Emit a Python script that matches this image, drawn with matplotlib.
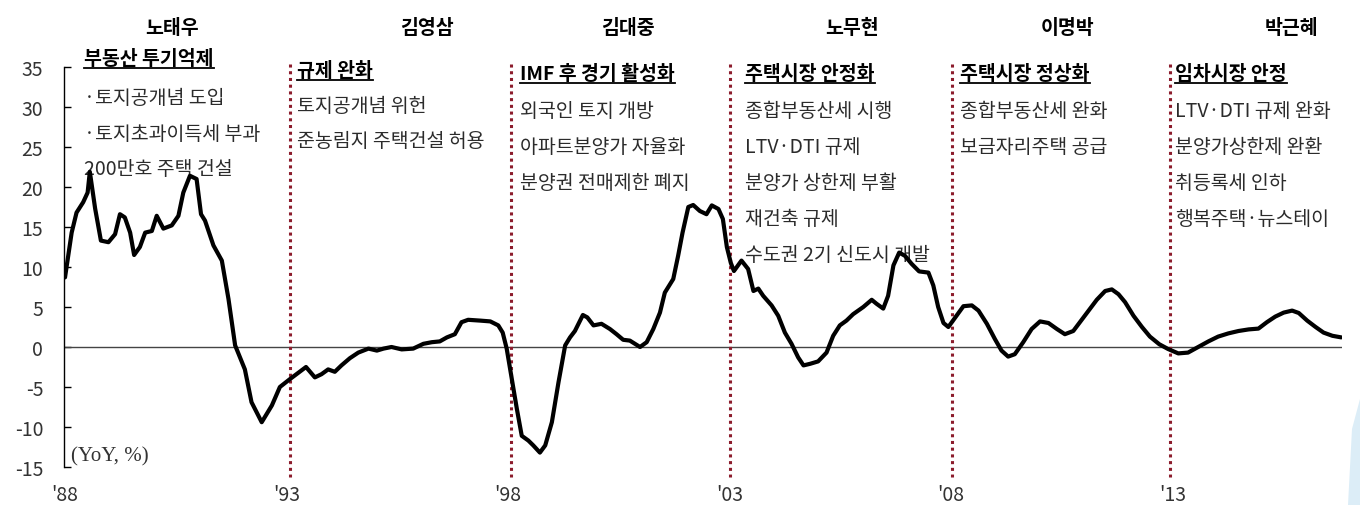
import matplotlib
matplotlib.use("Agg")
import matplotlib.pyplot as plt
from matplotlib.lines import Line2D
from matplotlib.patches import Polygon

plt.rcParams['font.family'] = ['Noto Sans CJK KR', 'DejaVu Sans']
plt.rcParams['axes.unicode_minus'] = False

# house price growth (YoY, %)
years = [1988.00, 1988.15, 1988.26, 1988.41, 1988.51, 1988.56, 1988.68, 1988.81, 1988.98,
         1989.13, 1989.24, 1989.35, 1989.47, 1989.56, 1989.69, 1989.81, 1989.96,
         1990.07, 1990.22, 1990.41, 1990.56, 1990.67, 1990.82, 1990.97,
         1991.07, 1991.16, 1991.35, 1991.54, 1991.69, 1991.84,
         1992.06, 1992.21, 1992.44, 1992.67, 1992.85,
         1993.08, 1993.27, 1993.44, 1993.64, 1993.79, 1993.94,
         1994.09, 1994.24, 1994.43, 1994.62, 1994.85,
         1995.04, 1995.19, 1995.37, 1995.60, 1995.86,
         1996.09, 1996.28, 1996.46, 1996.62, 1996.80, 1996.95,
         1997.10, 1997.37, 1997.60, 1997.78, 1997.88, 1997.97,
         1998.08, 1998.20, 1998.31, 1998.46, 1998.57, 1998.72, 1998.84, 1998.99,
         1999.14, 1999.29, 1999.40, 1999.51, 1999.69, 1999.79, 1999.93,
         2000.11, 2000.30, 2000.45, 2000.60, 2000.75, 2000.98,
         2001.13, 2001.28, 2001.43, 2001.54, 2001.73, 2001.84, 2001.94,
         2002.07, 2002.18, 2002.33, 2002.48, 2002.60, 2002.75, 2002.85, 2002.94,
         2003.03, 2003.10, 2003.27, 2003.42, 2003.54, 2003.65, 2003.76, 2003.95,
         2004.10, 2004.25, 2004.40, 2004.55, 2004.67, 2004.82,
         2005.00, 2005.19, 2005.34, 2005.49, 2005.64, 2005.79,
         2006.02, 2006.21, 2006.32, 2006.47, 2006.58, 2006.70, 2006.83, 2006.96,
         2007.11, 2007.28, 2007.49, 2007.60, 2007.71, 2007.83, 2007.94,
         2008.07, 2008.28, 2008.47, 2008.62, 2008.81, 2008.99,
         2009.14, 2009.29, 2009.44, 2009.63, 2009.82,
         2010.01, 2010.20, 2010.39, 2010.57, 2010.76, 2010.91,
         2011.10, 2011.29, 2011.48, 2011.63, 2011.78, 2011.93,
         2012.12, 2012.31, 2012.49, 2012.70, 2012.90,
         2013.13, 2013.35, 2013.58, 2013.81,
         2014.03, 2014.26, 2014.49, 2014.72, 2014.94,
         2015.13, 2015.32, 2015.51, 2015.70, 2015.85,
         2016.04, 2016.23, 2016.41, 2016.61, 2016.81]
yoy = [8.7, 14.3, 16.8, 18.1, 19.3, 21.9, 17.3, 13.3, 13.1,
       14.1, 16.6, 16.2, 14.3, 11.5, 12.5, 14.3, 14.5,
       16.4, 14.8, 15.2, 16.4, 19.3, 21.4, 21.0,
       16.6, 15.8, 12.7, 10.8, 6.0, 0.2,
       -2.8, -6.9, -9.4, -7.3, -5.0,
       -4.0, -3.2, -2.5, -3.8, -3.4, -2.8,
       -3.1, -2.3, -1.4, -0.7, -0.2,
       -0.45, -0.2, 0.0, -0.3, -0.2,
       0.4, 0.6, 0.7, 1.2, 1.6, 3.1,
       3.4, 3.3, 3.2, 2.7, 1.8, -0.2,
       -3.8, -7.75, -11.1, -11.7, -12.3, -13.2, -12.3, -9.4,
       -4.4, 0.2, 1.2, 2.0, 4.0, 3.7, 2.7,
       2.9, 2.25, 1.6, 0.9, 0.8, 0.0,
       0.6, 2.25, 4.3, 6.8, 8.5, 11.4, 14.3,
       17.5, 17.75, 17.0, 16.6, 17.7, 17.25, 16.0, 12.5,
       10.5, 9.5, 10.8, 9.75, 7.0, 7.3, 6.4, 5.2,
       3.9, 1.8, 0.4, -1.3, -2.3, -2.1,
       -1.8, -0.7, 1.4, 2.7, 3.3, 4.1,
       5.0, 5.9, 5.4, 4.8, 6.4, 10.2, 11.8, 11.4,
       10.4, 9.45, 9.3, 7.7, 5.0, 3.0, 2.5,
       3.5, 5.1, 5.2, 4.55, 2.9, 1.0,
       -0.45, -1.2, -0.9, 0.6, 2.25,
       3.2, 3.0, 2.25, 1.6, 2.0, 3.1,
       4.5, 5.9, 7.0, 7.2, 6.6, 5.6,
       3.9, 2.5, 1.3, 0.35, -0.25,
       -0.8, -0.7, 0.0, 0.7,
       1.3, 1.7, 2.0, 2.2, 2.3,
       3.1, 3.8, 4.3, 4.55, 4.25,
       3.3, 2.5, 1.8, 1.4, 1.2]

inaugurations = [1993.08, 1998.07, 2003.0, 2008.03, 2012.95]
xtick_years = [1988, 1993, 1998, 2003, 2008, 2013]
xtick_labels = ["'88", "'93", "'98", "'03", "'08", "'13"]
yticks = [-15, -10, -5, 0, 5, 10, 15, 20, 25, 30, 35]

presidents = ['노태우', '김영삼', '김대중', '노무현', '이명박', '박근혜']
headings = ['부동산 투기억제', '규제 완화', 'IMF 후 경기 활성화',
            '주택시장 안정화', '주택시장 정상화', '임차시장 안정']
policies = [
    ['·토지공개념 도입', '·토지초과이득세 부과', '200만호 주택 건설'],
    ['토지공개념 위헌', '준농림지 주택건설 허용'],
    ['외국인 토지 개방', '아파트분양가 자율화', '분양권 전매제한 폐지'],
    ['종합부동산세 시행', 'LTV·DTI 규제', '분양가 상한제 부활', '재건축 규제',
     '수도권 2기 신도시 개발'],
    ['종합부동산세 완화', '보금자리주택 공급'],
    ['LTV·DTI 규제 완화', '분양가상한제 완환', '취등록세 인하', '행복주택·뉴스테이'],
]

W, H = 1360, 506
fig = plt.figure(figsize=(W / 100, H / 100), dpi=100)
ax = fig.add_axes([64 / W, 1 - 468 / H, (1342 - 64) / W, 400 / H])

ax.plot(years, yoy, color='black', lw=3.0, zorder=4, solid_joinstyle='round',
        solid_capstyle='round')
ax.axhline(0, color='#444444', lw=1.0, zorder=2)
for x in inaugurations:
    ax.plot([x, x], [35.4, -16.2], color='#8c1c2c', lw=2.2, ls=(0, (1, 1.2)),
            zorder=3, clip_on=False)

ax.set_xlim(1987.977, 2016.826)
ax.set_ylim(-15, 35)
ax.set_yticks(yticks)
ax.set_yticklabels([str(v) for v in yticks])
ax.set_xticks(xtick_years)
ax.set_xticklabels(xtick_labels)
ax.tick_params(axis='y', direction='in', length=5, width=1, pad=15,
               labelsize=14, labelcolor='#333333')
ax.tick_params(axis='x', length=0, pad=12, labelsize=14, labelcolor='#333333')
for s in ['top', 'right', 'bottom']:
    ax.spines[s].set_visible(False)
ax.spines['left'].set_linewidth(1.0)
ax.patch.set_visible(False)

ax.text(71 / W, 1 - 461 / H, '(YoY, %)', transform=fig.transFigure,
        family='Liberation Serif', fontsize=15, color='#333333', va='baseline')


def fpos(x, y):
    return x / W, 1 - y / H


# president names
name_x = [172, 427, 628, 852, 1068, 1292]
for name, x in zip(presidents, name_x):
    fig.text(*fpos(x, 34), name, fontsize=14, fontweight='bold', ha='center',
             va='baseline', color='black')

block_x = [84, 297, 520, 745, 960, 1175]
head_y = [58, 70, 73, 73, 73, 73]
first_y = [97, 105, 110, 110, 110, 110]
steps = [35.5, 35, 36, 36, 36, 36]

head_texts = []
for i in range(len(headings)):
    t = ax.text(*fpos(block_x[i], head_y[i] + 7), headings[i], transform=fig.transFigure,
                fontsize=14, fontweight='bold', va='baseline', color='black', zorder=1)
    head_texts.append((t, head_y[i] + 7))
    for j, line in enumerate(policies[i]):
        ax.text(*fpos(block_x[i], first_y[i] + 7 + j * steps[i]), line,
                transform=fig.transFigure, fontsize=14, va='baseline',
                color='#2b2b2b', zorder=1)

# underline the headings
fig.canvas.draw()
r = fig.canvas.get_renderer()
for t, base in head_texts:
    bb = t.get_window_extent(r)
    yy = 1 - (base + 4) / H
    fig.add_artist(Line2D([bb.x0 / W, bb.x1 / W], [yy, yy], color='black', lw=1.3,
                          transform=fig.transFigure))

# light blue corner decoration
fig.add_artist(Polygon([[1348 / W, 0], [1360 / W, 0], [1360 / W, 1 - 400 / H],
                        [1352 / W, 1 - 430 / H]], closed=True, color='#dcedf7',
                       transform=fig.transFigure, lw=0))

fig.savefig('out.png', dpi=100)
